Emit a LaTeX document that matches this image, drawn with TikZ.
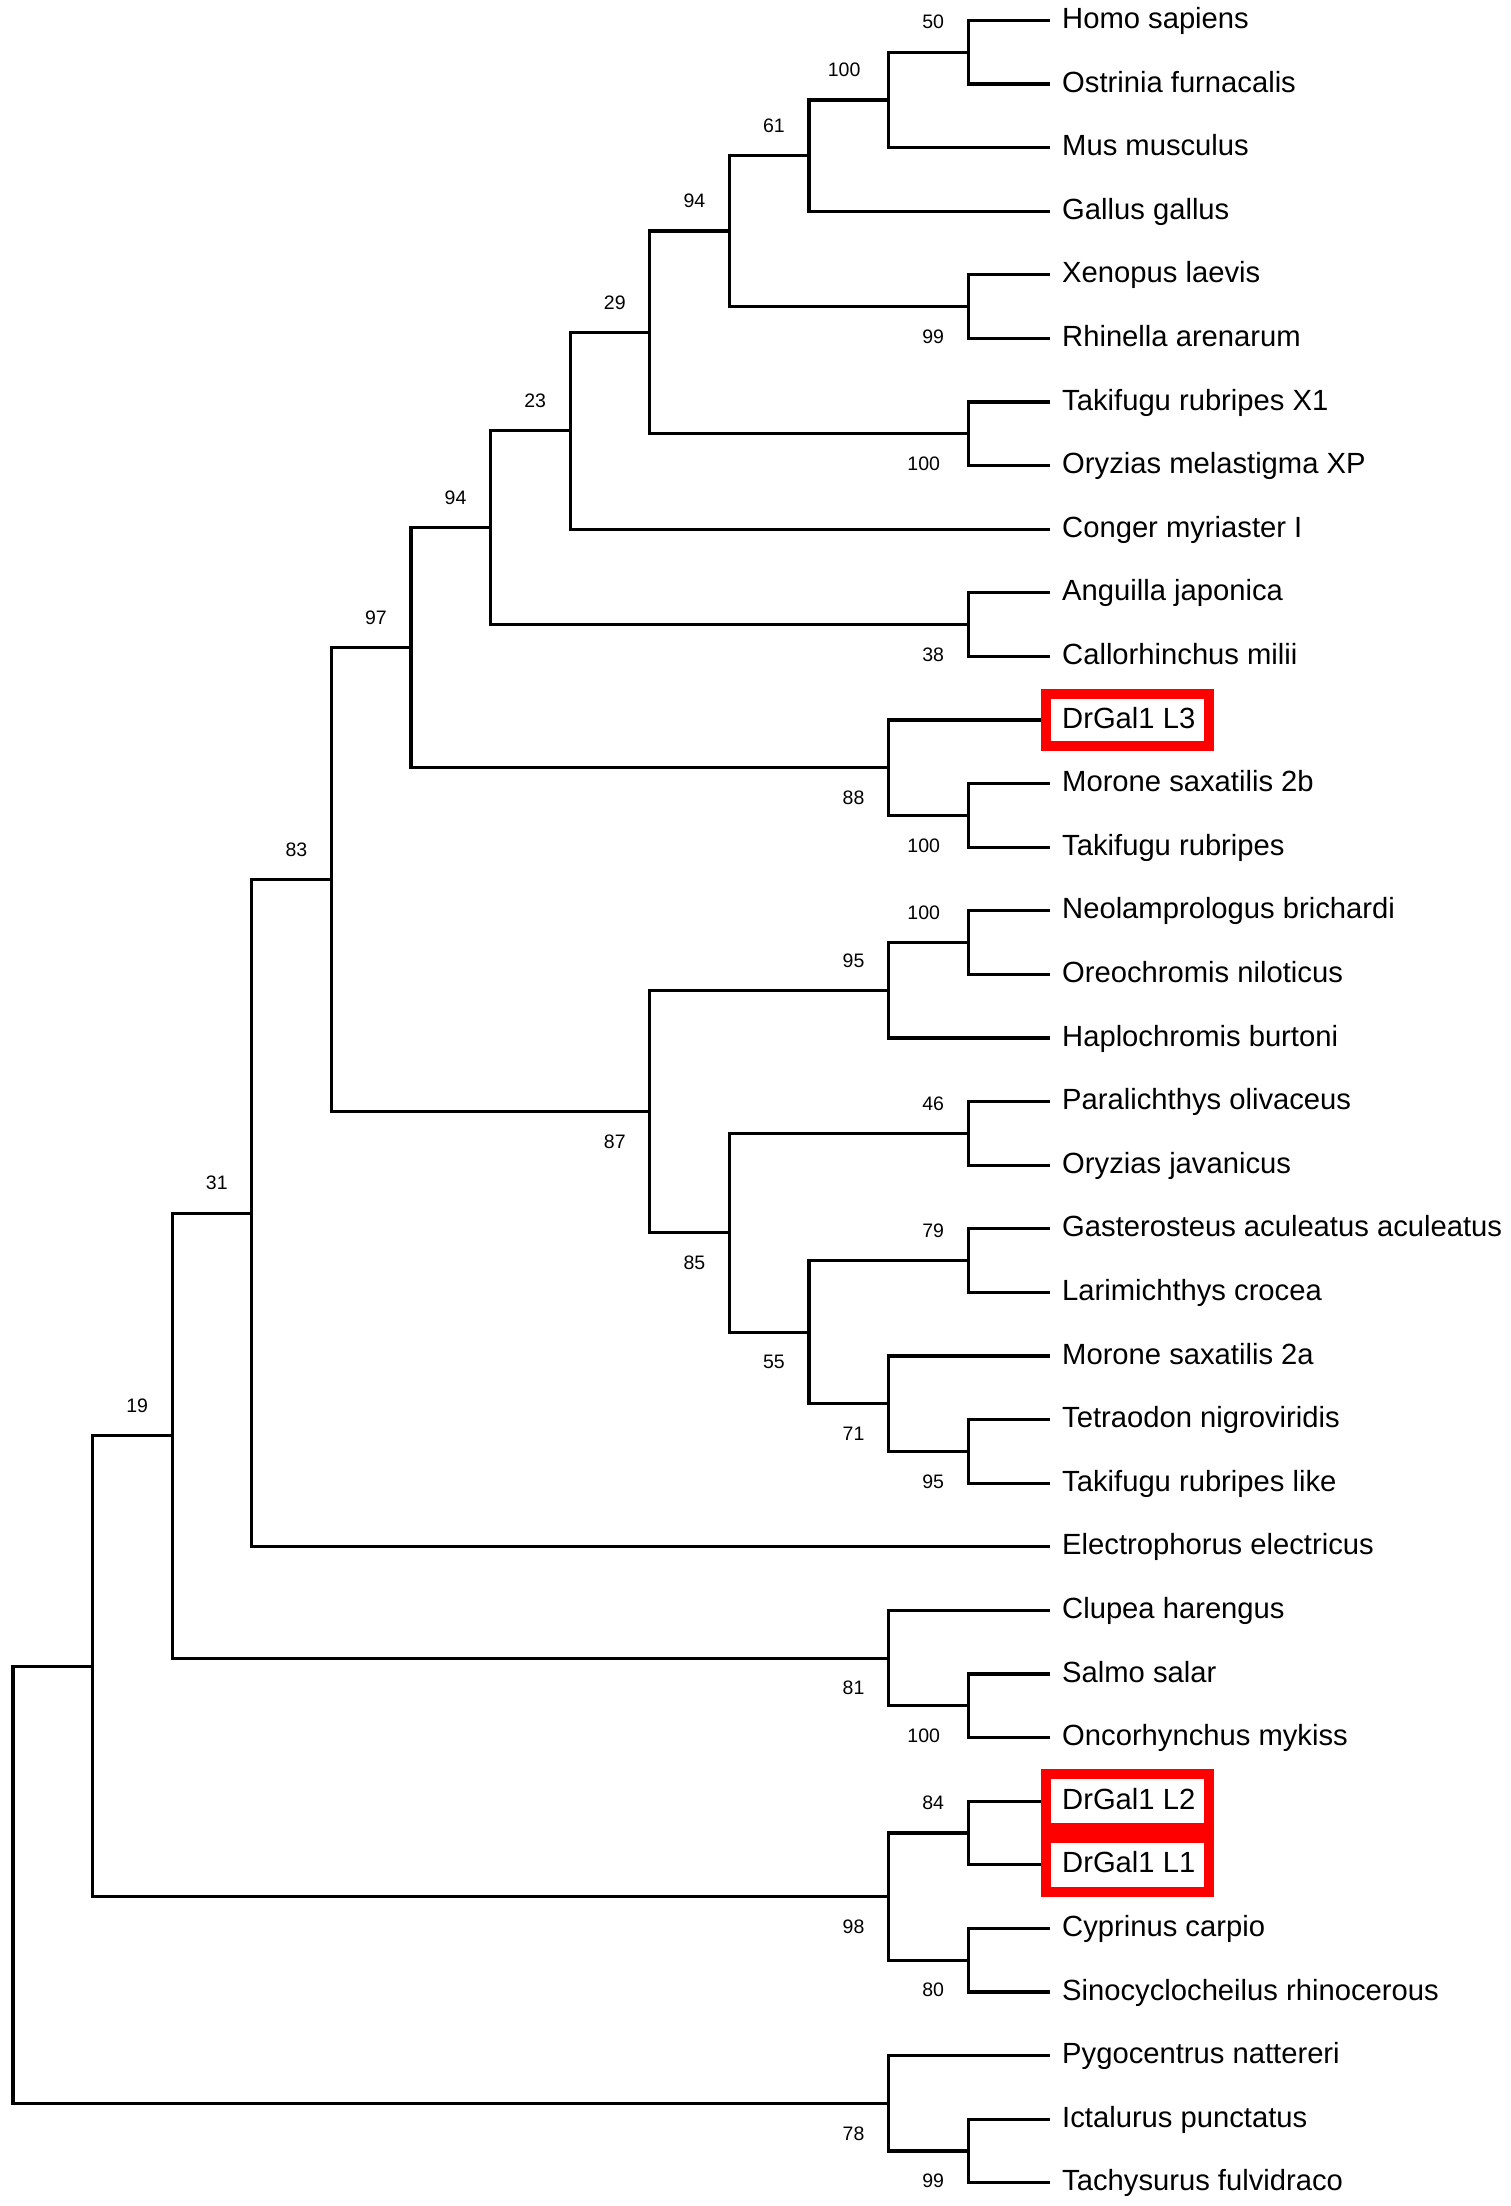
\documentclass[tikz,border=0pt]{standalone}
\usepackage{fontspec}
\setmainfont{Liberation Sans}
\begin{document}
\begin{tikzpicture}[
  x=79.6pt, y=-63.6pt,
  br/.style={draw=black, line width=3.2pt, line join=miter, line cap=rect},
  leaf/.style={anchor=base west, inner sep=0pt, xshift=14pt, yshift=-8pt, font=\fontsize{29.2}{30}\selectfont},
  labA/.style={anchor=east, inner sep=0pt, xshift=-24pt, yshift=30pt, font=\fontsize{19.5}{20}\selectfont},
  labB/.style={anchor=east, inner sep=0pt, xshift=-24pt, yshift=-30pt, font=\fontsize{19.5}{20}\selectfont},
  labAw/.style={labA, xshift=-4pt},
  labBw/.style={labB, xshift=-4pt},
  hibox/.style={draw=red, line width=10pt}
]
\useasboundingbox (0pt,0pt) rectangle (1510pt,-2206pt);
\fill[white] (0pt,0pt) rectangle (1510pt,-2206pt);
\begin{scope}[shift={(13pt,-20.4pt)}]
% leaf end points
\foreach \i in {0,...,34} { \coordinate (l\i) at (13.0025,\i); }
% internal nodes
\coordinate (n50) at (12,0.5);
\coordinate (n100a) at (11,1.25);
\coordinate (n61) at (10,2.125);
\coordinate (n99a) at (12,4.5);
\coordinate (n94a) at (9,3.3125);
\coordinate (n100b) at (12,6.5);
\coordinate (n29) at (8,4.90625);
\coordinate (n23) at (7,6.453125);
\coordinate (n38) at (12,9.5);
\coordinate (n94b) at (6,7.9765625);
\coordinate (n100c) at (12,12.5);
\coordinate (n88) at (11,11.75);
\coordinate (n97) at (5,9.86328125);
\coordinate (n100d) at (12,14.5);
\coordinate (n95) at (11,15.25);
\coordinate (n46) at (12,17.5);
\coordinate (n79) at (12,19.5);
\coordinate (n95b) at (12,22.5);
\coordinate (n71) at (11,21.75);
\coordinate (n55) at (10,20.625);
\coordinate (n85) at (9,19.0625);
\coordinate (n87) at (8,17.15625);
\coordinate (n83) at (4,13.509765625);
\coordinate (n31) at (3,18.7548828125);
\coordinate (n100e) at (12,26.5);
\coordinate (n81) at (11,25.75);
\coordinate (n19) at (2,22.25244140625);
\coordinate (n84) at (12,28.5);
\coordinate (n80) at (12,30.5);
\coordinate (n98) at (11,29.5);
\coordinate (nA) at (1,25.876220703125);
\coordinate (n99b) at (12,33.5);
\coordinate (n78) at (11,32.75);
\coordinate (root) at (0,29.3131103515625);

% branches
\draw[br] (l0) -| (n50) |- (l1);
\draw[br] (n50) -| (n100a) |- (l2);
\draw[br] (n100a) -| (n61) |- (l3);
\draw[br] (l4) -| (n99a) |- (l5);
\draw[br] (n61) -| (n94a) |- (n99a);
\draw[br] (l6) -| (n100b) |- (l7);
\draw[br] (n94a) -| (n29) |- (n100b);
\draw[br] (n29) -| (n23) |- (l8);
\draw[br] (l9) -| (n38) |- (l10);
\draw[br] (n23) -| (n94b) |- (n38);
\draw[br] (l12) -| (n100c) |- (l13);
\draw[br] (l11) -| (n88) |- (n100c);
\draw[br] (n94b) -| (n97) |- (n88);
\draw[br] (l14) -| (n100d) |- (l15);
\draw[br] (n100d) -| (n95) |- (l16);
\draw[br] (l17) -| (n46) |- (l18);
\draw[br] (l19) -| (n79) |- (l20);
\draw[br] (l22) -| (n95b) |- (l23);
\draw[br] (l21) -| (n71) |- (n95b);
\draw[br] (n79) -| (n55) |- (n71);
\draw[br] (n46) -| (n85) |- (n55);
\draw[br] (n95) -| (n87) |- (n85);
\draw[br] (n97) -| (n83) |- (n87);
\draw[br] (n83) -| (n31) |- (l24);
\draw[br] (l26) -| (n100e) |- (l27);
\draw[br] (l25) -| (n81) |- (n100e);
\draw[br] (n31) -| (n19) |- (n81);
\draw[br] (l28) -| (n84) |- (l29);
\draw[br] (l30) -| (n80) |- (l31);
\draw[br] (n84) -| (n98) |- (n80);
\draw[br] (n19) -| (nA) |- (n98);
\draw[br] (l33) -| (n99b) |- (l34);
\draw[br] (l32) -| (n78) |- (n99b);
\draw[br] (nA) -| (root) |- (n78);

% highlight boxes
\draw[hibox] ([xshift=-2pt,yshift=26pt]l11) rectangle ([xshift=161pt,yshift=-26pt]l11);
\draw[hibox] ([xshift=-2pt,yshift=27pt]l28) rectangle ([xshift=161pt,yshift=-27pt]l28);
\draw[hibox] ([xshift=-2pt,yshift=27pt]l29) rectangle ([xshift=161pt,yshift=-27pt]l29);

% support values
\node[labA] (s50) at (n50) {50};
\node[labAw] (s100a) at (n100a) {100};
\node[labA] (s61) at (n61) {61};
\node[labB] (s99a) at (n99a) {99};
\node[labA] (s94a) at (n94a) {94};
\node[labBw] (s100b) at (n100b) {100};
\node[labA] (s29) at (n29) {29};
\node[labA] (s23) at (n23) {23};
\node[labB] (s38) at (n38) {38};
\node[labA] (s94b) at (n94b) {94};
\node[labBw] (s100c) at (n100c) {100};
\node[labB] (s88) at (n88) {88};
\node[labA] (s97) at (n97) {97};
\node[labAw] (s100d) at (n100d) {100};
\node[labA] (s95) at (n95) {95};
\node[labA] (s46) at (n46) {46};
\node[labA] (s79) at (n79) {79};
\node[labB] (s95b) at (n95b) {95};
\node[labB] (s71) at (n71) {71};
\node[labB] (s55) at (n55) {55};
\node[labB] (s85) at (n85) {85};
\node[labB] (s87) at (n87) {87};
\node[labA] (s83) at (n83) {83};
\node[labA] (s31) at (n31) {31};
\node[labBw] (s100e) at (n100e) {100};
\node[labB] (s81) at (n81) {81};
\node[labA] (s19) at (n19) {19};
\node[labA] (s84) at (n84) {84};
\node[labB] (s80) at (n80) {80};
\node[labB] (s98) at (n98) {98};
\node[labB] (s99b) at (n99b) {99};
\node[labB] (s78) at (n78) {78};

% leaf names
\node[leaf] (t0) at (l0) {Homo sapiens};
\node[leaf] (t1) at (l1) {Ostrinia furnacalis};
\node[leaf] (t2) at (l2) {Mus musculus};
\node[leaf] (t3) at (l3) {Gallus gallus};
\node[leaf] (t4) at (l4) {Xenopus laevis};
\node[leaf] (t5) at (l5) {Rhinella arenarum};
\node[leaf] (t6) at (l6) {Takifugu rubripes X1};
\node[leaf] (t7) at (l7) {Oryzias melastigma XP};
\node[leaf] (t8) at (l8) {Conger myriaster I};
\node[leaf] (t9) at (l9) {Anguilla japonica};
\node[leaf] (t10) at (l10) {Callorhinchus milii};
\node[leaf] (t11) at (l11) {DrGal1 L3};
\node[leaf] (t12) at (l12) {Morone saxatilis 2b};
\node[leaf] (t13) at (l13) {Takifugu rubripes};
\node[leaf] (t14) at (l14) {Neolamprologus brichardi};
\node[leaf] (t15) at (l15) {Oreochromis niloticus};
\node[leaf] (t16) at (l16) {Haplochromis burtoni};
\node[leaf] (t17) at (l17) {Paralichthys olivaceus};
\node[leaf] (t18) at (l18) {Oryzias javanicus};
\node[leaf] (t19) at (l19) {Gasterosteus aculeatus aculeatus};
\node[leaf] (t20) at (l20) {Larimichthys crocea};
\node[leaf] (t21) at (l21) {Morone saxatilis 2a};
\node[leaf] (t22) at (l22) {Tetraodon nigroviridis};
\node[leaf] (t23) at (l23) {Takifugu rubripes like};
\node[leaf] (t24) at (l24) {Electrophorus electricus};
\node[leaf] (t25) at (l25) {Clupea harengus};
\node[leaf] (t26) at (l26) {Salmo salar};
\node[leaf] (t27) at (l27) {Oncorhynchus mykiss};
\node[leaf] (t28) at (l28) {DrGal1 L2};
\node[leaf] (t29) at (l29) {DrGal1 L1};
\node[leaf] (t30) at (l30) {Cyprinus carpio};
\node[leaf] (t31) at (l31) {Sinocyclocheilus rhinocerous};
\node[leaf] (t32) at (l32) {Pygocentrus nattereri};
\node[leaf] (t33) at (l33) {Ictalurus punctatus};
\node[leaf] (t34) at (l34) {Tachysurus fulvidraco};
\end{scope}
\end{tikzpicture}
\end{document}
